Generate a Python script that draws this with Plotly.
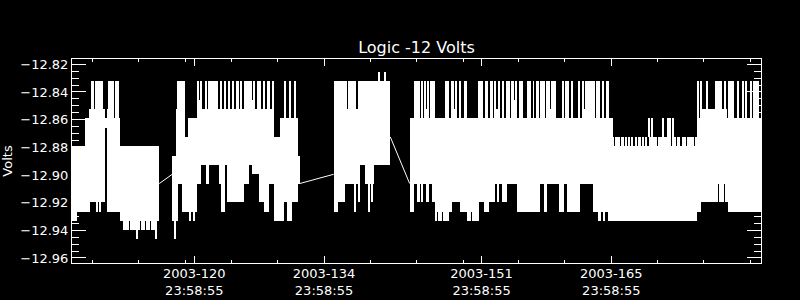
import plotly.graph_objects as go

# ---------------- data (day-of-year 2003, volts) ----------------
# envelope blocks: each block is the range covered by the samples over a time span
block_start = [
    107.80, 108.34, 109.24, 109.24, 109.60, 111.22, 111.39, 111.61, 111.61, 112.95,
    118.62, 119.13, 119.27, 119.64, 120.00, 120.35, 121.29, 121.72, 122.26, 122.62,
    123.63, 123.91, 124.28, 124.53, 126.33, 126.87, 127.23, 127.95, 128.49, 129.03,
    129.63, 130.28, 130.65, 131.00, 131.54, 132.19,
    119.13, 121.29, 121.47, 121.72, 122.19, 122.45, 123.80, 124.17, 124.71, 125.07,
    125.53, 125.96, 126.33, 127.23, 127.41, 127.77, 128.41, 128.84, 129.38,
    136.04, 136.51, 137.29, 137.40, 137.55, 138.48, 138.63, 138.91, 139.39, 140.36,
    144.24, 144.68, 145.36,
    145.46, 145.82, 145.93, 146.11, 146.47, 148.09, 148.73, 148.99, 149.16, 149.60,
    150.07, 151.58, 152.40, 152.94, 153.42, 153.59, 153.77, 154.20, 154.67, 155.21,
    155.47, 155.64, 156.01, 156.90, 157.55, 157.87, 158.34, 158.95, 159.42, 159.52,
    160.68, 161.04, 161.68, 162.48, 162.84, 163.02, 163.19, 164.35, 165.00, 165.43,
    165.64,
    145.03, 145.46, 146.03, 146.65, 147.01, 148.27, 148.48, 148.81, 149.70, 150.97,
    151.69, 152.23, 152.77, 153.77, 154.20, 155.82, 158.70, 160.32, 161.22, 164.02,
    164.53, 164.89, 165.64,
    166.18,
    167.01, 167.83, 168.12, 168.91, 170.04, 171.04, 172.55, 173.09, 173.63, 174.20,
    175.00,
    175.25, 175.68, 177.49, 177.60, 178.14, 178.25, 178.59, 175.68,
]
block_end = [
    108.34, 109.24, 111.39, 109.60, 110.50, 111.39, 111.61, 112.95, 111.90, 117.22,
    119.13, 119.27, 119.64, 120.00, 120.35, 121.29, 121.72, 122.26, 122.62, 123.63,
    123.91, 124.28, 124.53, 126.33, 126.87, 127.23, 127.95, 128.49, 129.03, 129.63,
    130.28, 130.65, 131.00, 131.54, 132.19, 132.37,
    120.00, 121.47, 121.72, 121.83, 122.29, 123.56, 123.91, 124.45, 124.82, 125.25,
    125.79, 126.15, 127.23, 127.41, 127.58, 128.20, 128.66, 129.14, 129.63,
    136.51, 137.29, 137.40, 137.55, 138.48, 138.63, 138.91, 139.39, 140.36, 142.15,
    144.68, 145.36, 166.18,
    145.68, 145.93, 146.11, 146.29, 147.01, 148.45, 148.99, 149.16, 149.35, 149.81,
    150.43, 152.15, 152.66, 153.23, 153.59, 153.77, 154.02, 154.45, 155.04, 155.47,
    155.64, 155.82, 156.47, 157.37, 157.62, 158.16, 158.81, 159.42, 159.52, 160.03,
    160.86, 161.40, 161.83, 162.65, 163.02, 163.19, 164.21, 164.81, 165.18, 165.54,
    165.78,
    145.39, 145.68, 146.29, 147.01, 148.27, 148.48, 148.81, 149.70, 150.97, 151.69,
    152.23, 152.77, 153.48, 153.88, 154.74, 158.30, 159.06, 160.86, 162.65, 164.53,
    164.89, 165.64, 166.18,
    175.25,
    167.40, 168.02, 168.37, 169.17, 170.93, 172.44, 173.01, 173.45, 174.09, 174.89,
    175.25,
    175.68, 177.49, 177.60, 178.14, 178.25, 178.59, 182.15, 178.48,
]
block_high = [
    -12.8793, -12.8793, -12.8590, -12.9197, -12.8523, -12.8523, -12.8590, -12.8590, -12.8523, -12.8793,
    -12.8860, -12.8523, -12.8523, -12.8523, -12.8725, -12.8590, -12.8523, -12.8523, -12.8523, -12.8523,
    -12.8523, -12.8523, -12.8523, -12.8523, -12.8523, -12.8523, -12.8523, -12.8523, -12.8523, -12.8523,
    -12.8725, -12.8590, -12.8590, -12.8590, -12.8590, -12.8860,
    -12.8321, -12.8321, -12.8456, -12.8321, -12.8321, -12.8321, -12.8321, -12.8321, -12.8321, -12.8321,
    -12.8321, -12.8321, -12.8321, -12.8456, -12.8321, -12.8321, -12.8321, -12.8321, -12.8321,
    -12.8321, -12.8321, -12.8321, -12.8523, -12.8321, -12.8523, -12.8321, -12.8321, -12.8321, -12.8321,
    -12.8590, -12.8321, -12.8590,
    -12.8321, -12.8321, -12.8523, -12.8321, -12.8321, -12.8321, -12.8321, -12.8523, -12.8321, -12.8321,
    -12.8321, -12.8321, -12.8321, -12.8321, -12.8321, -12.8523, -12.8321, -12.8321, -12.8321, -12.8321,
    -12.8456, -12.8321, -12.8321, -12.8321, -12.8321, -12.8321, -12.8321, -12.8321, -12.8523, -12.8321,
    -12.8321, -12.8321, -12.8321, -12.8321, -12.8321, -12.8523, -12.8321, -12.8321, -12.8321, -12.8321,
    -12.8321,
    -12.9062, -12.9062, -12.9062, -12.9062, -12.9062, -12.9062, -12.9062, -12.9062, -12.9062, -12.9062,
    -12.9062, -12.9062, -12.9062, -12.9062, -12.9062, -12.9062, -12.9062, -12.9062, -12.9062, -12.9062,
    -12.9062, -12.9062, -12.9062,
    -12.8793,
    -12.8725, -12.8725, -12.8725, -12.8725, -12.8725, -12.8725, -12.8725, -12.8725, -12.8725, -12.8725,
    -12.8725,
    -12.8590, -12.8590, -12.8590, -12.8590, -12.8590, -12.8590, -12.8590, -12.8523,
]
block_low = [
    -12.9332, -12.9264, -12.9197, -12.9264, -12.8590, -12.8590, -12.8658, -12.9264, -12.8590, -12.9332,
    -12.9332, -12.9332, -12.9062, -12.9264, -12.9264, -12.9264, -12.9062, -12.8927, -12.9062, -12.8927,
    -12.9062, -12.9264, -12.8927, -12.9197, -12.9062, -12.8927, -12.8995, -12.9197, -12.9264, -12.9062,
    -12.9332, -12.9332, -12.9197, -12.9332, -12.9197, -12.9062,
    -12.8523, -12.8523, -12.8523, -12.8523, -12.8523, -12.8523, -12.8523, -12.8523, -12.8523, -12.8523,
    -12.8523, -12.8523, -12.8523, -12.8523, -12.8523, -12.8523, -12.8523, -12.8523, -12.8523,
    -12.9264, -12.9197, -12.9062, -12.9062, -12.9062, -12.9062, -12.9062, -12.8927, -12.9062, -12.8927,
    -12.9264, -12.9062, -12.9062,
    -12.8590, -12.8590, -12.8590, -12.8590, -12.8590, -12.8590, -12.8590, -12.8590, -12.8590, -12.8590,
    -12.8590, -12.8590, -12.8590, -12.8590, -12.8590, -12.8590, -12.8590, -12.8590, -12.8590, -12.8590,
    -12.8590, -12.8590, -12.8590, -12.8590, -12.8590, -12.8590, -12.8590, -12.8590, -12.8590, -12.8590,
    -12.8590, -12.8590, -12.8590, -12.8590, -12.8590, -12.8590, -12.8590, -12.8590, -12.8590, -12.8590,
    -12.8590,
    -12.9197, -12.9197, -12.9197, -12.9197, -12.9264, -12.9332, -12.9264, -12.9197, -12.9264, -12.9332,
    -12.9197, -12.9264, -12.9197, -12.9197, -12.9197, -12.9264, -12.9264, -12.9264, -12.9264, -12.9264,
    -12.9332, -12.9264, -12.9332,
    -12.9332,
    -12.8793, -12.8793, -12.8793, -12.8793, -12.8793, -12.8793, -12.8793, -12.8793, -12.8793, -12.8793,
    -12.8793,
    -12.9264, -12.9197, -12.9062, -12.9197, -12.9062, -12.9197, -12.9264, -12.8590,
]

# isolated single-sample excursions
spike_time = [
    109.93, 110.10, 110.36, 110.57, 110.79, 111.01, 111.79, 112.01, 112.26, 112.52, 112.80,
    109.64, 110.55, 110.77,
    113.41, 113.63, 113.88, 114.14, 114.35, 114.60, 115.06, 115.32, 115.57, 115.86, 116.14, 116.40, 116.65,
    114.78, 116.87,
    118.92, 120.50, 121.00, 130.79, 131.33, 131.87,
    140.90, 141.55, 138.39, 139.88, 138.74, 140.18,
    147.11, 147.37, 147.62, 147.91, 148.19, 150.53, 150.75, 165.21,
    166.21, 166.51, 166.65, 166.86, 167.55, 168.66, 169.47, 169.74,
    170.10, 170.42, 171.55, 172.09, 172.28, 172.66,
    175.36, 175.71, 176.33, 177.30, 177.48, 177.73, 177.89, 178.27, 178.67, 178.92,
    179.13, 179.62, 180.21, 180.54, 181.07, 181.40, 181.61, 181.83,
]
spike_high = (
    [-12.8321] * 11 + [-12.9197] * 3 + [-12.9332] * 13 + [-12.9332] * 2
    + [-12.9332, -12.9264, -12.9264, -12.8321, -12.8321, -12.8321]
    + [-12.8254, -12.8254, -12.9062, -12.9062, -12.9062, -12.9062]
    + [-12.9264] * 8 + [-12.8725] * 8 + [-12.8590] * 6 + [-12.8321] * 18
)
spike_low = (
    [-12.8590] * 11 + [-12.9264] * 3 + [-12.9399] * 13 + [-12.9466] * 2
    + [-12.9466, -12.9332, -12.9332, -12.8590, -12.8590, -12.8590]
    + [-12.8321, -12.8321, -12.9264, -12.9264, -12.9197, -12.9197]
    + [-12.9332] * 8 + [-12.8793] * 8 + [-12.8725] * 6 + [-12.8590] * 18
)

# data gaps, bridged by a single line segment
gap_from_time = [117.22, 132.37, 142.15]
gap_from_volts = [-12.9062, -12.9062, -12.8725]
gap_to_time = [118.62, 136.04, 144.24]
gap_to_volts = [-12.8995, -12.8995, -12.9062]

major_tick_days = [120.999, 134.999, 151.999, 165.999]
major_tick_labels = ["2003-120<br>23:58:55", "2003-134<br>23:58:55",
                     "2003-151<br>23:58:55", "2003-165<br>23:58:55"]
minor_tick_days = [109.999, 114.999, 119.999, 124.999, 129.999, 134.999, 139.999,
                   144.999, 149.999, 155.999, 160.999, 165.999, 170.999, 175.999, 180.999]
y_tick_values = [-12.96, -12.94, -12.92, -12.90, -12.88, -12.86, -12.84, -12.82]

# ---------------- figure ----------------
FONT = "DejaVu Sans"
spike_w = 0.11

fig = go.Figure()
fig.add_trace(go.Bar(
    x=[(a + b) / 2 for a, b in zip(block_start, block_end)],
    width=[b - a for a, b in zip(block_start, block_end)],
    base=block_low,
    y=[h - l for h, l in zip(block_high, block_low)],
    marker=dict(color="white", line=dict(width=0)),
    hoverinfo="skip", showlegend=False,
))
fig.add_trace(go.Bar(
    x=spike_time,
    width=[spike_w] * len(spike_time),
    base=spike_low,
    y=[h - l for h, l in zip(spike_high, spike_low)],
    marker=dict(color="white", line=dict(width=0)),
    hoverinfo="skip", showlegend=False,
))
gx, gy = [], []
for t0, v0, t1, v1 in zip(gap_from_time, gap_from_volts, gap_to_time, gap_to_volts):
    gx += [t0, t1, None]
    gy += [v0, v1, None]
fig.add_trace(go.Scatter(x=gx, y=gy, mode="lines",
                         line=dict(color="white", width=1),
                         hoverinfo="skip", showlegend=False))

fig.update_layout(
    width=800, height=300,
    margin=dict(l=72, r=39, t=59, b=37),
    paper_bgcolor="black", plot_bgcolor="black",
    barmode="overlay", bargap=0,
    font=dict(family=FONT, size=13, color="white"),
    title=dict(text="Logic -12 Volts", x=0.5, xref="paper", xanchor="center",
               y=1 - 47.5 / 300, yref="container", yanchor="middle",
               font=dict(family=FONT, size=16, color="white")),
    xaxis=dict(
        range=[107.801, 182.153], showgrid=False, zeroline=False, automargin=False,
        showline=True, linecolor="white", linewidth=1, mirror="ticks",
        ticks="inside", ticklen=7, tickcolor="white", tickwidth=1,
        tickmode="array", tickvals=major_tick_days, ticktext=major_tick_labels,
        tickfont=dict(family=FONT, size=13, color="white"), ticklabelstandoff=-2,
        minor=dict(tickmode="array", tickvals=minor_tick_days, ticks="inside",
                   ticklen=3, tickcolor="white", tickwidth=1, showgrid=False),
    ),
    yaxis=dict(
        range=[-12.963621, -12.816169], showgrid=False, zeroline=False, automargin=False,
        showline=True, linecolor="white", linewidth=1, mirror="ticks",
        ticks="inside", ticklen=14, tickcolor="white", tickwidth=1,
        tickmode="array", tickvals=y_tick_values, tickformat=".2f",
        tickfont=dict(family=FONT, size=13, color="white"),
        minor=dict(dtick=0.005, tick0=-12.96, ticks="inside", ticklen=7,
                   tickcolor="white", tickwidth=1, showgrid=False),
        title=dict(text="Volts", standoff=6, font=dict(family=FONT, size=13, color="white")),
    ),
)

fig.write_html("out.html")
